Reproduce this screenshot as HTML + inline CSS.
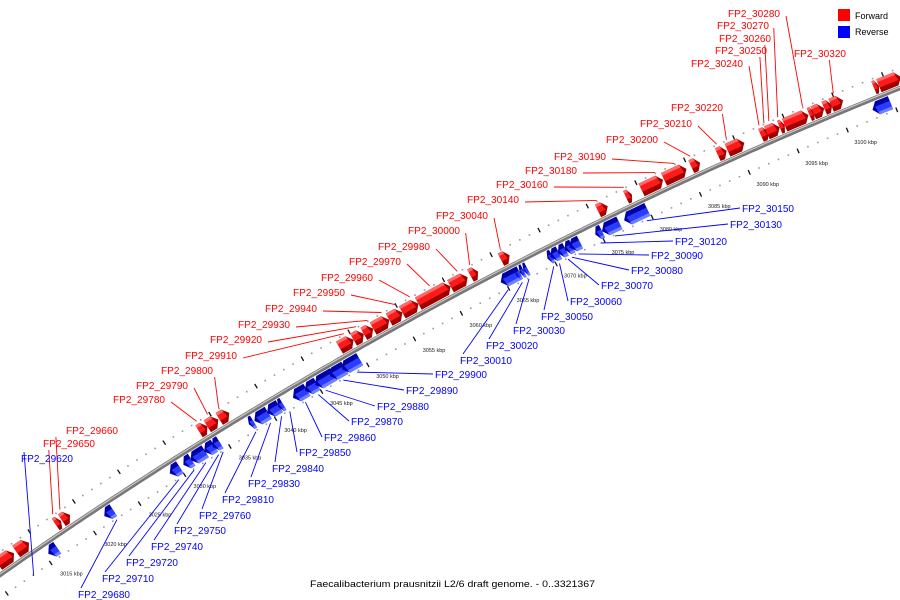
<!DOCTYPE html>
<html><head><meta charset="utf-8"><style>
html,body{margin:0;padding:0;background:#fff}
svg{display:block}
text{font-family:"Liberation Sans",sans-serif}
</style></head><body>
<svg id="chart" width="900" height="600" viewBox="0 0 900 600" xmlns="http://www.w3.org/2000/svg">
<g id="ticks"></g>
<g id="backbone"></g>
<g id="genes"></g>
<g id="leaders"></g>
<g id="labels"></g>
<g>
<rect x="838" y="9" width="12" height="12" fill="#f00"/>
<text x="855" y="19" font-size="9">Forward</text>
<rect x="838" y="26" width="12" height="12" fill="#00f"/>
<text x="855" y="35" font-size="9">Reverse</text>
</g>
<text x="310" y="587" font-size="9" textLength="285" lengthAdjust="spacingAndGlyphs">Faecalibacterium prausnitzii L2/6 draft genome. - 0..3321367</text>
</svg>
<script>
// data
const fwdStart=[3010.9,3012.95,3017.4,3018.1,3033.3,3034.2,3035.5,3048.5,3050.0,3051.1,3052.1,3053.8,3055.2,3056.9,3060.3,3062.4,3065.6,3075.7,3078.6,3080.2,3082.5,3085.3,3088.0,3089.0,3092.4,3093.0,3094.3,3094.8,3097.3,3097.7,3098.8,3099.5,3103.8,3104.3];
const fwdEnd=[3012.7,3014.4,3018.0,3019.0,3034.2,3035.4,3036.6,3050.0,3051.1,3052.1,3053.8,3055.2,3056.9,3060.3,3062.1,3063.2,3066.5,3076.7,3079.2,3082.4,3084.8,3086.2,3088.9,3090.7,3093.2,3094.3,3094.8,3097.2,3097.8,3098.8,3099.6,3100.7,3104.3,3106.5];
const revStart=[3015.3,3021.6,3028.9,3030.4,3031.2,3032.7,3033.6,3037.6,3038.2,3039.6,3040.8,3042.4,3043.7,3044.8,3046.4,3047.7,3064.6,3066.2,3066.6,3067.0,3069.5,3069.8,3070.6,3071.3,3071.8,3074.5,3075.2,3077.5,3102.9];
const revEnd=[3016.3,3022.6,3030.0,3031.3,3032.8,3033.8,3034.4,3038.1,3039.7,3040.9,3041.3,3043.9,3045.0,3046.8,3048.0,3049.6,3066.4,3066.6,3067.0,3067.4,3070.0,3070.7,3071.4,3072.1,3072.9,3075.2,3077.0,3079.9,3104.7];
const fwdLabels=["FP2_30280","FP2_30270","FP2_30260","FP2_30250","FP2_30240","FP2_30320","FP2_30220","FP2_30210","FP2_30200","FP2_30190","FP2_30180","FP2_30160","FP2_30140","FP2_30040","FP2_30000","FP2_29980","FP2_29970","FP2_29960","FP2_29950","FP2_29940","FP2_29930","FP2_29920","FP2_29910","FP2_29800","FP2_29790","FP2_29780","FP2_29660","FP2_29650"];
const fwdLabelKbp=[3097.0,3094.5,3093.6,3093.1,3092.6,3100.1,3089.3,3088.3,3085.6,3084.0,3082.0,3078.8,3076.0,3066.0,3062.8,3061.5,3058.6,3056.5,3055.0,3053.5,3052.0,3050.8,3049.5,3036.0,3034.8,3033.6,3018.5,3017.7];
const revLabels=["FP2_29620","FP2_29680","FP2_29710","FP2_29720","FP2_29740","FP2_29750","FP2_29760","FP2_29810","FP2_29830","FP2_29840","FP2_29850","FP2_29860","FP2_29870","FP2_29880","FP2_29890","FP2_29900","FP2_30010","FP2_30020","FP2_30030","FP2_30050","FP2_30060","FP2_30070","FP2_30080","FP2_30090","FP2_30120","FP2_30130","FP2_30150"];
const revLabelKbp=[3013.0,3022.4,3029.3,3031.0,3032.3,3033.7,3034.2,3037.8,3039.4,3040.6,3041.5,3043.2,3044.6,3045.4,3047.3,3048.8,3064.9,3066.4,3067.1,3069.7,3070.3,3071.2,3071.6,3072.3,3074.6,3076.1,3079.4];
const tickStart=3010, tickEnd=3107, majorStep=5;

// geometry
const NS="http://www.w3.org/2000/svg";
const P1=[0,575],P2=[650,197],P3=[900,88];
function circ(a,b,c){const d=2*(a[0]*(b[1]-c[1])+b[0]*(c[1]-a[1])+c[0]*(a[1]-b[1]));
const A=a[0]*a[0]+a[1]*a[1],B=b[0]*b[0]+b[1]*b[1],C=c[0]*c[0]+c[1]*c[1];
const x=(A*(b[1]-c[1])+B*(c[1]-a[1])+C*(a[1]-b[1]))/d,y=(A*(c[0]-b[0])+B*(a[0]-c[0])+C*(b[0]-a[0]))/d;
return [x,y,Math.hypot(a[0]-x,a[1]-y)];}
const [cx,cy,R]=circ(P1,P2,P3);
function angAtX(x){const y=cy-Math.sqrt(R*R-(x-cx)*(x-cx));return Math.atan2(y-cy,x-cx);}
const a1=angAtX(40),a2=angAtX(840);
function ang(k){return a1+(k-3015)/85*(a2-a1);}
function pt(k,r){const a=ang(k);return [cx+r*Math.cos(a),cy+r*Math.sin(a)];}
function el(tag,attrs,parent){const e=document.createElementNS(NS,tag);for(const k in attrs)e.setAttribute(k,attrs[k]);parent.appendChild(e);return e;}
const gT=document.getElementById('ticks'),gB=document.getElementById('backbone'),gG=document.getElementById('genes'),gL=document.getElementById('leaders'),gX=document.getElementById('labels');

// backbone
let d="";for(let k=3008;k<=3108;k+=0.5){const p=pt(k,R);d+=(d?"L":"M")+p[0].toFixed(1)+","+p[1].toFixed(1);}
const bb1=el('path',{d:d,fill:'none',stroke:'#777','stroke-width':4.5},gB);


const bb2=el('path',{d:d,fill:'none',stroke:'#c8c8c8','stroke-width':1.2,transform:'translate(0,-1)'},gB);



// ticks
for(let k=tickStart;k<=tickEnd;k++){
 for(const r of [R+19,R-19]){
  if(k%majorStep===0){const p=pt(k,r-2.5),q=pt(k,r+2.5);
   const t=el('line',{x1:p[0],y1:p[1],x2:q[0],y2:q[1],stroke:'#111','stroke-width':1.3},gT);
   
   
  } else {const p=pt(k,r);
   const t=el('rect',{x:p[0]-0.8,y:p[1]-0.8,width:1.6,height:1.6,fill:'#999'},gT);
   
   }
 }
 if(k%majorStep===0){const p=pt(k,R-32);
  const t=el('text',{x:p[0]+2,y:p[1]+2,'font-size':5.5,'font-family':'Liberation Serif, serif',fill:'#222'},gT);
  t.textContent=k+" kbp";
  
  }
}

// genes
function gene(s,e,fwd,i){
 const h=Math.min(0.5,(e-s)*0.5);
 const rA=fwd?R+3:R-3,rB=fwd?R+17:R-17,rM=(rA+rB)/2;
 let pts;
 if(fwd){pts=[pt(s,rA),pt(e-h,rA),pt(e,rM),pt(e-h,rB),pt(s,rB)];}
 else{pts=[pt(e,rA),pt(s+h,rA),pt(s,rM),pt(s+h,rB),pt(e,rB)];}
 const str=ps=>ps.map(p=>p[0].toFixed(1)+","+p[1].toFixed(1)).join(" ");
 const g=el('g',{},gG);
 
 
 el('polygon',{points:str(pts),fill:fwd?'#a00000':'#0000a8'},g);
 // lighter outer face
 const rC=fwd?R+8:R-8;
 let top;
 if(fwd){top=[pt(s,rC),pt(e-h*0.64,rC),pt(e-h,rB),pt(s,rB)];}
 else{top=[pt(e,rB),pt(s+h,rB),pt(s+h*0.64,rC),pt(e,rC)];}
 el('polygon',{points:str(top),fill:fwd?'#ff1a1a':'#2a3cff'},g);
 let shine;
 const rD=fwd?R+14:R-14;
 if(fwd){shine=[pt(s,rD),pt(e-h*0.85,rD),pt(e-h,rB),pt(s,rB)];}
 else{shine=[pt(e,rD),pt(s+h*0.85,rD),pt(s+h,rB),pt(e,rB)];}
 el('polygon',{points:str(shine),fill:fwd?'#ff6a6a':'#7080ff'},g);
}
fwdStart.forEach((s,i)=>gene(s,fwdEnd[i],true,i));
revStart.forEach((s,i)=>gene(s,revEnd[i],false,i));

// labels
const fwdPos=[[728,13],[717,25],[719,38],[715,50],[691,63],[794,53],[671,107],[640,123],[606,139],[554,156],[525,170],[496,184],[467,199],[436,215],[408,230],[378,246],[349,261],[321,277],[293,292],[265,308],[238,324],[210,339],[185,355],[161,370],[136,385],[113,399],[66,430],[43,443]];
const revPos=[[21,458],[78,594],[102,578],[126,562],[151,546],[174,530],[199,515],[222,499],[248,483],[272,468],[299,452],[324,437],[351,421],[377,406],[406,390],[435,374],[460,360],[486,345],[513,330],[541,316],[570,301],[601,285],[631,270],[651,255],[675,241],[730,224],[742,208]];
function label(txt,pos,kbp,fwd){
 const t=el('text',{x:pos[0],y:pos[1]+4,'font-size':10.5,fill:fwd?'#f00':'#00f',textLength:52,lengthAdjust:'spacingAndGlyphs'},gX);
 t.textContent=txt;
 
 
 const tp=pt(kbp,fwd?R+20:R-20);
 let sx,sy;
 if(fwd){sx=Math.min(pos[0]+58,tp[0]-4);sy=pos[1]+(sx<pos[0]+56?7:3);}
 else{sx=pos[0]+(tp[0]<pos[0]?-2:3);sy=pos[1]-(tp[0]<pos[0]?0:6);}
 const l=el('line',{x1:sx,y1:sy,x2:tp[0],y2:tp[1],stroke:fwd?'#f00':'#00f','stroke-width':0.9},gL);
 
 
}
fwdLabels.forEach((t,i)=>label(t,fwdPos[i],fwdLabelKbp[i],true));
revLabels.forEach((t,i)=>label(t,revPos[i],revLabelKbp[i],false));
</script>
</body></html>
